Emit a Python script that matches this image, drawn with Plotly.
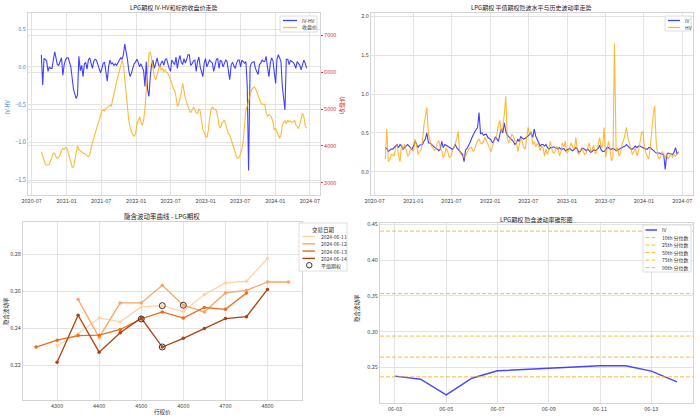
import pandas as pd
import plotly.graph_objects as go

FONT = "Noto Sans CJK SC, Noto Sans, sans-serif"
GRID = "#e3e3e3"
FRAME = "#d4d4d4"
TXT = "#444444"

# ---------------- data: weekly series (Aug 2020 - Jun 2024) ----------------
dates = pd.date_range("2020-08-21", "2024-06-14", periods=198).normalize()

iv_hv = [
    0.16, -0.24, 0.11, 0.10, 0.08, -0.06, 0.00, -0.02, -0.02, 0.09,
    0.20, 0.12, 0.03, 0.02, 0.06, 0.12, -0.11, 0.03, 0.09, 0.12,
    0.12, 0.07, 0.00, -0.15, -0.30, -0.36, -0.42, -0.37, 0.14, -0.05,
    0.02, -0.13, 0.04, 0.06, -0.03, 0.09, 0.12, 0.05, -0.02, 0.07,
    0.10, 0.09, 0.03, -0.03, -0.08, -0.02, 0.05, 0.06, -0.04, -0.19,
    0.00, 0.09, 0.04, 0.05, 0.02, 0.04, 0.02, 0.06, 0.10, 0.12,
    0.10, 0.16, 0.30, 0.22, 0.10, -0.05, -0.13, -0.08, -0.03, 0.04,
    0.06, 0.10, 0.06, 0.00, 0.04, -0.01, -0.05, -0.26, 0.07, -0.30,
    -0.39, -0.12, 0.03, 0.09, -0.02, 0.05, 0.12, 0.03, 0.00, 0.05,
    0.08, 0.02, 0.09, 0.11, 0.03, -0.02, -0.06, 0.09, 0.06, 0.03,
    0.13, -0.02, 0.09, 0.15, 0.06, 0.03, 0.11, 0.05, 0.10, 0.16,
    0.16, 0.02, 0.04, 0.08, 0.09, -0.06, 0.07, 0.13, 0.00, -0.08,
    -0.13, 0.05, 0.11, 0.00, 0.05, 0.09, 0.07, 0.05, -0.06, 0.03,
    0.10, 0.11, -0.02, 0.09, 0.07, 0.00, 0.06, 0.09, 0.07, -0.05,
    -0.17, 0.03, 0.06, 0.01, -0.02, 0.05, 0.09, 0.09, 0.00, 0.09,
    0.07, 0.05, 0.07, -0.25, -1.37, 0.00, 0.05, 0.06, 0.07, -0.02,
    -0.06, -0.10, 0.03, 0.05, 0.09, 0.07, 0.07, 0.14, 0.00, -0.13,
    0.05, 0.12, 0.08, -0.04, -0.22, 0.10, 0.16, 0.12, 0.07, -0.25,
    -0.44, -0.57, 0.10, 0.10, 0.03, 0.09, 0.07, 0.06, 0.03, -0.02,
    0.07, 0.05, 0.02, -0.04, 0.05, 0.09, 0.05, -0.02,
]

close_price = [
    3840, 3700, 3560, 3500, 3479, 3479, 3500, 3580, 3700, 3796,
    3796, 3700, 3660, 3680, 3750, 3880, 3932, 3900, 3960, 3950,
    3796, 3705, 3560, 3420, 3420, 3650, 3887, 4000, 3900, 3870,
    3841, 3796, 3796, 3760, 3730, 3705, 3760, 3978, 4090, 4200,
    4330, 4470, 4612, 4760, 4880, 4950, 4975, 4950, 5010, 5050,
    5090, 5100, 5080, 5220, 5380, 5560, 5740, 5882, 6030, 6170,
    6320, 6200, 5800, 5338, 4900, 4700, 4500, 4400, 4295, 4260,
    4320, 4600, 4720, 4790, 4650, 4550, 4700, 5000, 5520, 6050,
    6500, 6550, 6380, 6100, 5880, 5800, 5950, 6120, 6200, 6060,
    6100, 6020, 6060, 6000, 5970, 5890, 5800, 5700, 5560, 5500,
    5340, 5080, 5120, 5250, 5450, 5700, 5450, 5300, 5180, 5050,
    4975, 4900, 4980, 5050, 5000, 4884, 4884, 5000, 4950, 4650,
    4431, 4360, 4260, 4220, 4400, 4700, 4975, 5060, 5000, 5000,
    4960, 4794, 4560, 4480, 4600, 4650, 4703, 4580, 4420, 4330,
    4300, 4159, 4100, 3980, 3800, 3700, 3660, 3700, 3780, 3900,
    4150, 4500, 4975, 5080, 5250, 5400, 5520, 5560, 5600, 5560,
    5450, 5330, 5250, 5170, 5130, 5120, 5130, 4900, 4800, 4850,
    4820, 4760, 4650, 4431, 4480, 4380, 4300, 4204, 4300, 4550,
    4640, 4680, 4600, 4703, 4650, 4680, 4630, 4650, 4703, 4570,
    4520, 4470, 4580, 4703, 4884, 4800, 4550, 4476,
]

iv_series = [
    0.31, 0.30, 0.26, 0.28, 0.29, 0.29, 0.31, 0.33, 0.35, 0.31,
    0.35, 0.33, 0.29, 0.31, 0.33, 0.35, 0.33, 0.31, 0.29, 0.33,
    0.39, 0.36, 0.31, 0.34, 0.35, 0.35, 0.39, 0.42, 0.50, 0.37,
    0.37, 0.35, 0.33, 0.32, 0.30, 0.29, 0.27, 0.29, 0.39, 0.31,
    0.35, 0.34, 0.33, 0.32, 0.30, 0.29, 0.31, 0.35, 0.31, 0.29,
    0.26, 0.25, 0.22, 0.13, 0.28, 0.30, 0.33, 0.38, 0.43, 0.48,
    0.51, 0.54, 0.57, 0.76, 0.49, 0.50, 0.47, 0.48, 0.48, 0.44,
    0.42, 0.41, 0.37, 0.40, 0.45, 0.41, 0.39, 0.48, 0.55, 0.50,
    0.63, 0.52, 0.47, 0.45, 0.43, 0.41, 0.39, 0.35, 0.37, 0.42,
    0.39, 0.45, 0.44, 0.42, 0.43, 0.44, 0.46, 0.48, 0.50, 0.44,
    0.55, 0.46, 0.42, 0.36, 0.33, 0.35, 0.35, 0.33, 0.35, 0.31,
    0.29, 0.31, 0.31, 0.32, 0.31, 0.30, 0.29, 0.31, 0.29, 0.29,
    0.30, 0.27, 0.28, 0.30, 0.30, 0.28, 0.27, 0.29, 0.31, 0.29,
    0.25, 0.26, 0.30, 0.30, 0.28, 0.27, 0.29, 0.27, 0.25, 0.26,
    0.28, 0.27, 0.28, 0.30, 0.34, 0.28, 0.26, 0.26, 0.28, 0.31,
    0.31, 0.29, 0.29, 0.30, 0.29, 0.27, 0.28, 0.29, 0.29, 0.31,
    0.31, 0.33, 0.35, 0.33, 0.30, 0.29, 0.29, 0.31, 0.33, 0.31,
    0.33, 0.33, 0.32, 0.30, 0.29, 0.29, 0.29, 0.31, 0.31, 0.29,
    0.27, 0.25, 0.24, 0.24, 0.24, 0.23, 0.22, 0.22, 0.03, 0.22,
    0.24, 0.23, 0.23, 0.22, 0.25, 0.31, 0.23, 0.25,
]

hv_series = [
    0.16, 0.55, 0.13, 0.16, 0.22, 0.22, 0.20, 0.31, 0.35, 0.20,
    0.13, 0.35, 0.29, 0.35, 0.29, 0.20, 0.22, 0.31, 0.29, 0.26,
    0.42, 0.35, 0.22, 0.26, 0.27, 0.39, 0.59, 0.72, 0.83, 0.48,
    0.39, 0.33, 0.31, 0.27, 0.30, 0.37, 0.40, 0.31, 0.27, 0.18,
    0.22, 0.31, 0.26, 0.18, 0.20, 0.26, 0.30, 0.35, 0.42, 0.52,
    0.26, 0.22, 0.20, 0.18, 0.20, 0.24, 0.29, 0.31, 0.31, 0.26,
    0.29, 0.35, 0.40, 0.42, 0.37, 0.36, 0.39, 0.44, 0.40, 0.37,
    0.31, 0.26, 0.33, 0.39, 0.42, 0.48, 0.61, 0.66, 0.50, 0.57,
    0.74, 0.97, 0.44, 0.37, 0.42, 0.48, 0.46, 0.40, 0.39, 0.26,
    0.34, 0.43, 0.39, 0.31, 0.29, 0.46, 0.57, 0.48, 0.52, 0.35,
    0.39, 0.32, 0.36, 0.34, 0.27, 0.33, 0.31, 0.20, 0.29, 0.22,
    0.29, 0.39, 0.29, 0.23, 0.26, 0.33, 0.31, 0.20, 0.26, 0.37,
    0.32, 0.39, 0.24, 0.26, 0.31, 0.37, 0.31, 0.29, 0.44, 0.26,
    0.22, 0.27, 0.31, 0.26, 0.22, 0.24, 0.31, 0.37, 0.26, 0.29,
    0.34, 0.23, 0.26, 0.37, 0.44, 0.31, 0.33, 0.57, 0.18, 0.29,
    0.39, 0.29, 0.14, 0.18, 1.65, 0.26, 0.31, 0.20, 0.24, 0.35,
    0.40, 0.48, 0.57, 0.44, 0.37, 0.31, 0.22, 0.26, 0.31, 0.20,
    0.26, 0.37, 0.50, 0.52, 0.33, 0.24, 0.20, 0.16, 0.31, 0.55,
    0.72, 0.85, 0.39, 0.20, 0.16, 0.20, 0.26, 0.22, 0.18, 0.22,
    0.16, 0.20, 0.24, 0.18, 0.22, 0.20, 0.22, 0.26,
]

# ---------------- data: volatility smile ----------------
smile_dates = ["2024-06-11", "2024-06-12", "2024-06-13", "2024-06-14"]
smile_strikes = [
    [4300, 4350, 4400, 4450, 4500, 4550, 4600, 4650, 4700, 4750, 4800],
    [4350, 4400, 4450, 4500, 4550, 4600, 4650, 4700, 4750, 4800, 4850],
    [4250, 4300, 4350, 4400, 4450, 4500, 4550, 4600, 4650, 4700, 4750],
    [4300, 4350, 4400, 4450, 4500, 4550, 4600, 4650, 4700, 4750, 4800],
]
smile_iv = [
    [0.2305, 0.2370, 0.2456, 0.2434, 0.2515, 0.2522, 0.2490, 0.2582, 0.2645, 0.2654, 0.2777],
    [0.2555, 0.2350, 0.2537, 0.2537, 0.2632, 0.2524, 0.2488, 0.2591, 0.2605, 0.2650, 0.2650],
    [0.2298, 0.2335, 0.2360, 0.2362, 0.2393, 0.2450, 0.2488, 0.2455, 0.2512, 0.2502, 0.2590],
    [0.2215, 0.2470, 0.2270, 0.2375, 0.2455, 0.2298, 0.2345, 0.2398, 0.2452, 0.2462, 0.2610],
]
smile_colors = ["#fdd3aa", "#fca465", "#ef6a1c", "#b0410c"]
atm_label = "平值期权"
atm_strikes = [4550, 4600, 4500, 4550]
atm_iv = [0.2522, 0.2524, 0.2450, 0.2298]

# ---------------- data: volatility cone ----------------
cone_dates = ["2024-06-03", "2024-06-04", "2024-06-05", "2024-06-06", "2024-06-07",
              "2024-06-11", "2024-06-12", "2024-06-13", "2024-06-14"]
cone_iv = [0.2379, 0.2336, 0.2117, 0.2350, 0.2453, 0.2523, 0.2523, 0.2449, 0.2299]
pct_labels = ["10th 分位数", "25th 分位数", "50th 分位数", "75th 分位数", "90th 分位数"]
pct_values = [0.2369, 0.2645, 0.2939, 0.3533, 0.4407]

BLUE = "rgba(0,0,255,0.75)"
ORANGE = "rgba(255,165,0,0.78)"
DASH = "4px,2px"

# ---------------- figure ----------------
W, H = 700, 419
def px(x):
    return x / W
def py(y):
    return 1 - y / H

fig = go.Figure()

# top-left
fig.add_trace(go.Scatter(x=dates, y=iv_hv, name="IV-HV", mode="lines",
                         line=dict(color=BLUE, width=1.1), showlegend=False,
                         xaxis="x", yaxis="y"))
fig.add_trace(go.Scatter(x=dates, y=close_price, name="收盘价", mode="lines",
                         line=dict(color=ORANGE, width=1.1), showlegend=False,
                         xaxis="x", yaxis="y2"))
# top-right
fig.add_trace(go.Scatter(x=dates, y=iv_series, name="IV", mode="lines",
                         line=dict(color=BLUE, width=1.1), showlegend=False,
                         xaxis="x3", yaxis="y3"))
fig.add_trace(go.Scatter(x=dates, y=hv_series, name="HV", mode="lines",
                         line=dict(color=ORANGE, width=1.1), showlegend=False,
                         xaxis="x3", yaxis="y3"))
# bottom-left
for d, ks, vs, c in zip(smile_dates, smile_strikes, smile_iv, smile_colors):
    fig.add_trace(go.Scatter(x=ks, y=vs, name=d, mode="lines+markers",
                             line=dict(color=c, width=1.3),
                             marker=dict(color=c, size=3.5), showlegend=False,
                             xaxis="x4", yaxis="y4"))
fig.add_trace(go.Scatter(x=atm_strikes, y=atm_iv, name=atm_label, mode="markers",
                         marker=dict(symbol="circle-open", size=6, color="#333333",
                                     line=dict(width=1)),
                         showlegend=False, xaxis="x4", yaxis="y4"))
# bottom-right
fig.add_trace(go.Scatter(x=cone_dates, y=cone_iv, name="IV", mode="lines",
                         line=dict(color="rgba(0,0,255,0.72)", width=1.5),
                         showlegend=False, xaxis="x5", yaxis="y5"))
for lab, v in zip(pct_labels, pct_values):
    fig.add_shape(type="line", xref="x5 domain", yref="y5", x0=0, x1=1, y0=v, y1=v,
                  line=dict(color=ORANGE, width=1, dash=DASH))

tickfont = dict(family=FONT, size=5.5, color=TXT)

def ax(**kw):
    base = dict(showgrid=True, gridcolor=GRID, gridwidth=1, zeroline=False,
                showline=True, linecolor=FRAME, linewidth=1, mirror=True,
                tickfont=tickfont, automargin=False, ticks="", ticklen=0)
    base.update(kw)
    return base

top_dom = [py(195), py(13)]
fig.update_layout(
    width=W, height=H, margin=dict(l=0, r=0, t=0, b=0),
    paper_bgcolor="white", plot_bgcolor="white", showlegend=False,
    font=dict(family=FONT, size=6, color=TXT),
    xaxis=ax(domain=[px(28), px(320)], anchor="y",
             range=["2020-06-12", "2024-08-23"], tickformat="%Y-%m",
             dtick="M6", tick0="2020-07-01"),
    yaxis=ax(domain=top_dom, anchor="x", range=[-1.694, 0.712], dtick=0.5,
             tick0=0, tickformat=".1f",
             tickfont=dict(family=FONT, size=5.5, color="#3a7fc0")),
    yaxis2=ax(overlaying="y", side="right", anchor="x", range=[2664, 7608],
              dtick=1000, tick0=0, mirror=False, ticks="outside", ticklen=2,
              tickcolor="#e03030",
              tickfont=dict(family=FONT, size=5.5, color="#e03030")),
    xaxis3=ax(domain=[px(371), px(693)], anchor="y3",
              range=["2020-06-14", "2024-08-21"], tickformat="%Y-%m",
              dtick="M6", tick0="2020-07-01"),
    yaxis3=ax(domain=top_dom, anchor="x3", range=[-0.30, 2.043], dtick=0.5,
              tick0=0, tickformat=".1f"),
    xaxis4=ax(domain=[px(23), px(302)], anchor="y4", range=[4219, 4882],
              dtick=100, tick0=4300),
    yaxis4=ax(domain=[py(400), py(222)], anchor="x4", range=[0.2011, 0.2975],
              dtick=0.02, tick0=0.2, tickformat=".2f"),
    xaxis5=ax(domain=[px(380), px(693)], anchor="y5",
              range=["2024-06-02 10:00", "2024-06-14 15:00"], tickformat="%m-%d",
              dtick=2 * 86400000, tick0="2024-06-03"),
    yaxis5=ax(domain=[py(403), py(223)], anchor="x5", range=[0.2003, 0.4521],
              dtick=0.05, tick0=0.2, tickformat=".2f"),
)

def note(text, x, y, size=6, color="#222222", angle=0, xanchor="center"):
    fig.add_annotation(text=text, x=px(x), y=py(y), xref="paper", yref="paper",
                       showarrow=False, textangle=angle, xanchor=xanchor,
                       yanchor="middle",
                       font=dict(family=FONT, size=size, color=color))

# ---- compact legends drawn in paper space (matplotlib-like) ----
def leg_box(x0, y0, x1, y1):
    fig.add_shape(type="rect", xref="paper", yref="paper",
                  x0=px(x0), x1=px(x1), y0=py(y1), y1=py(y0),
                  line=dict(color="#d6d6d6", width=0.8),
                  fillcolor="rgba(255,255,255,0.9)", layer="above")

def leg_line(x0, x1, y, color, width=1.3, dash="solid"):
    fig.add_shape(type="line", xref="paper", yref="paper",
                  x0=px(x0), x1=px(x1), y0=py(y), y1=py(y),
                  line=dict(color=color, width=width, dash=dash), layer="above")

# top-left legend
leg_box(280, 16, 317, 32)
for k, (lab, col) in enumerate([("IV-HV", BLUE), ("收盘价", ORANGE)]):
    yy = 20.5 + 7 * k
    leg_line(283, 297, yy, col)
    note(lab, 300, yy, size=5, color="#333", xanchor="left")

# top-right legend
leg_box(665, 16, 691, 31)
for k, (lab, col) in enumerate([("IV", BLUE), ("HV", ORANGE)]):
    yy = 20.5 + 7 * k
    leg_line(668, 680, yy, col)
    note(lab, 683, yy, size=5, color="#333", xanchor="left")

# bottom-left legend (outside, right)
leg_box(299, 223, 347, 271)
note("交易日期", 323, 229.5, size=5.5, color="#222")
for k, (lab, col) in enumerate(zip(smile_dates, smile_colors)):
    yy = 236.5 + 7.3 * k
    leg_line(302.5, 315, yy, col, width=1.4)
    note(lab, 318.5, yy, size=5, color="#333", xanchor="left")
fig.add_shape(type="circle", xref="paper", yref="paper",
              x0=px(306.5), x1=px(312), y0=py(268), y1=py(262.5),
              line=dict(color="#333333", width=1), layer="above")
note(atm_label, 318.5, 265.5, size=5, color="#333", xanchor="left")

# bottom-right legend
leg_box(643, 225, 691, 272)
leg_line(645.5, 657, 230, "rgba(0,0,255,0.72)", width=1.5)
note("IV", 660, 230, size=5, color="#333", xanchor="left")
for k, lab in enumerate(pct_labels):
    yy = 237.6 + 7.5 * k
    leg_line(645.5, 657, yy, ORANGE, width=1, dash=DASH)
    note(lab, 660, yy, size=5, color="#333", xanchor="left")

# titles and axis titles
note("LPG期权 IV-HV和标的收盘价走势", 174, 7.5)
note("LPG期权 平值期权隐波水平与历史波动率走势", 531, 7.5)
note("隐含波动率曲线 - LPG期权", 162, 216, size=6.5)
note("LPG期权 隐含波动率锥形图", 536, 219)
note("IV-HV", 8, 107, size=5.5, color="#3a7fc0", angle=-90)
note("收盘价", 341, 105, size=6, color="#e03030", angle=-90)
note("隐含波动率", 6, 311, size=5.5, angle=-90)
note("行权价", 162, 412, size=5.5)
note("隐含波动率", 357, 308, size=5.5, angle=-90)

fig.write_html("out.html",
               config={"displayModeBar": False},
               post_script="document.body.style.margin='0px';"
                           "document.body.style.overflow='hidden';")
